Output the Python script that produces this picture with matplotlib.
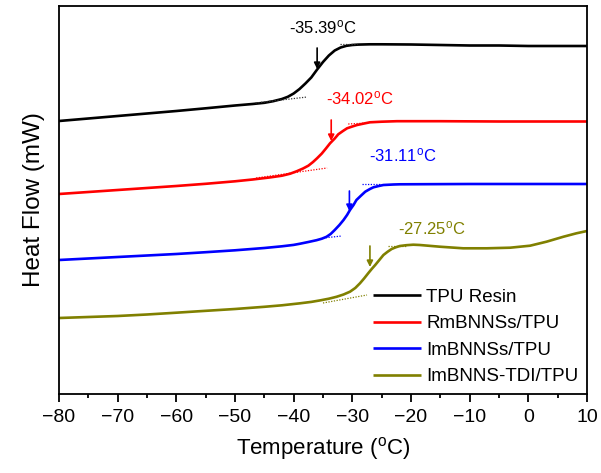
import matplotlib
matplotlib.use("Agg")
import matplotlib.pyplot as plt

plt.rcParams['font.family'] = ['Liberation Sans', 'DejaVu Sans']
plt.rcParams['mathtext.fontset'] = 'custom'
plt.rcParams['mathtext.rm'] = 'Liberation Sans'
plt.rcParams['mathtext.it'] = 'Liberation Sans:italic'

# ---------------- data ----------------
temp_black = [-80, -75, -70, -65, -60, -55, -50, -47, -45, -43.5, -42, -41, -40, -39, -38, -37,
              -36, -35, -34, -33, -32, -31, -30, -29, -27, -25, -20, -15, -10, -5, 0, 5, 10]
hf_black = [2.73, 2.755, 2.78, 2.805, 2.83, 2.857, 2.885, 2.90, 2.912, 2.928, 2.95, 2.972, 3.005,
            3.05, 3.105, 3.165, 3.245, 3.32, 3.385, 3.435, 3.465, 3.482, 3.49, 3.494, 3.497,
            3.497, 3.495, 3.49, 3.485, 3.485, 3.48, 3.48, 3.48]

temp_red = [-80, -75, -70, -65, -60, -55, -50, -47, -44, -42, -40.6, -39.5, -38.4, -37.5, -36.7,
            -36, -35.2, -34.5, -33.8, -33, -32.4, -31.6, -30.9, -30, -29.2, -28, -27, -25,
            -22.4, -15, -5, 0, 10]
hf_red = [2.00, 2.02, 2.04, 2.06, 2.08, 2.102, 2.127, 2.145, 2.166, 2.183, 2.203, 2.227, 2.255,
          2.283, 2.32, 2.358, 2.405, 2.455, 2.507, 2.555, 2.597, 2.63, 2.657, 2.675, 2.69,
          2.705, 2.717, 2.723, 2.728, 2.728, 2.725, 2.725, 2.725]

temp_blue = [-80, -75, -70, -65, -60, -55, -50, -45, -42, -40, -38.9, -37.5, -36.1, -35.2, -34.4,
             -33.7, -33.0, -32.2, -31.5, -30.9, -30.4, -29.8, -29.3, -28.5, -27.8, -27, -26.4,
             -25.5, -24.7, -23, -21.9, -10, 0, 10]
hf_blue = [1.34, 1.355, 1.37, 1.385, 1.40, 1.418, 1.437, 1.46, 1.477, 1.491, 1.503, 1.52, 1.538,
           1.553, 1.572, 1.600, 1.64, 1.69, 1.74, 1.79, 1.84, 1.89, 1.94, 1.985, 2.023, 2.05,
           2.067, 2.08, 2.09, 2.095, 2.097, 2.10, 2.10, 2.10]

temp_olive = [-80, -75, -70, -65, -60, -56, -50, -45, -42, -38.9, -37, -35.5, -34, -32.7, -31.5,
              -30.4, -29.5, -28.7, -28, -27.3, -26.7, -26.1, -25.4, -24.7, -24, -23.3, -22.6,
              -21.9, -20.8, -19.6, -18.5, -15.1, -11.1, -7.1, -3.1, 0.3, 3.1, 6.0, 8.2, 10]
hf_olive = [0.76, 0.77, 0.78, 0.795, 0.813, 0.828, 0.85, 0.872, 0.887, 0.907, 0.921, 0.936, 0.953,
            0.972, 0.995, 1.023, 1.06, 1.107, 1.155, 1.207, 1.25, 1.29, 1.34, 1.39, 1.422,
            1.45, 1.467, 1.48, 1.488, 1.493, 1.49, 1.473, 1.457, 1.457, 1.463, 1.483, 1.523,
            1.573, 1.607, 1.63]

series_labels = ['TPU Resin', 'RmBNNSs/TPU', 'ImBNNSs/TPU', 'ImBNNS-TDI/TPU']
series_colors = ['#000000', '#ff0000', '#0000ff', '#808000']

# glass transition annotations
tg_values = ['-35.39', '-34.02', '-31.11', '-27.25']
arrow_temp = [-36.0, -33.6, -30.5, -27.0]
arrow_top = [3.46, 2.74, 2.03, 1.48]
arrow_tip = [3.25, 2.53, 1.83, 1.27]
label_temp = [-35.0, -28.7, -21.4, -16.4]
label_hf = [3.67, 2.96, 2.39, 1.66]

# tangent (onset/endset) construction lines: (T0, y0, T1, y1)
tan_low = [(-46.5, 2.91, -37.7, 2.97), (-46.4, 2.16, -34.3, 2.26),
           (-35.0, 1.56, -31.8, 1.58), (-35.0, 0.91, -27.5, 0.99)]
tan_high = [(-32.1, 3.50, -29.2, 3.50), (-30.7, 2.70, -27.5, 2.71),
            (-28.4, 2.10, -25.3, 2.10), (-24.0, 1.48, -20.7, 1.48)]

xticks = [-80, -70, -60, -50, -40, -30, -20, -10, 0, 10]

# ---------------- figure ----------------
fig = plt.figure(figsize=(6.01, 4.73), dpi=100)
ax = fig.add_axes([59 / 601, 1 - 394 / 473, (587 - 59) / 601, (394 - 6) / 473])

temps = [temp_black, temp_red, temp_blue, temp_olive]
hfs = [hf_black, hf_red, hf_blue, hf_olive]
for t, h, lab, c in zip(temps, hfs, series_labels, series_colors):
    ax.plot(t, h, color=c, lw=1.9, label=lab, solid_capstyle='butt', solid_joinstyle='round')

for i, c in enumerate(series_colors):
    for seg in (tan_low[i], tan_high[i]):
        ax.plot([seg[0], seg[2]], [seg[1], seg[3]], color=c if i else '#333333',
                lw=0.9, ls=(0, (1, 1.2)))
    ax.annotate('', xy=(arrow_temp[i], arrow_tip[i]), xytext=(arrow_temp[i], arrow_top[i]),
                arrowprops=dict(arrowstyle='-|>', color=c, lw=1.2, mutation_scale=9,
                                shrinkA=0, shrinkB=0))
    ax.text(label_temp[i], label_hf[i], tg_values[i] + r'$^{\mathrm{o}}$C', color=c,
            fontsize=12, ha='center', va='center')

ax.set_xlim(-80, 10)
ax.set_ylim(0, 3.88)
ax.set_xticks(xticks)
ax.set_xticks([x + 5 for x in xticks[:-1]], minor=True)
ax.set_yticks([])
ax.tick_params(axis='x', which='major', direction='out', length=6, width=1.3, labelsize=14, pad=5)
ax.tick_params(axis='x', which='minor', direction='out', length=3, width=1.3)
for s in ax.spines.values():
    s.set_linewidth(1.3)

ax.set_xlabel(r'Temperature ($^{\mathrm{o}}$C)', fontsize=16, labelpad=6)
ax.set_ylabel('Heat Flow (mW)', fontsize=17.5, labelpad=10)

leg = ax.legend(loc='upper left', bbox_to_anchor=(0.588, 1 - (285 - 6) / 388),
                frameon=False, fontsize=13.5, handlelength=2.56, handletextpad=0.27,
                labelspacing=0.5, borderpad=0.2, borderaxespad=0)

fig.savefig('out.png', dpi=100)
